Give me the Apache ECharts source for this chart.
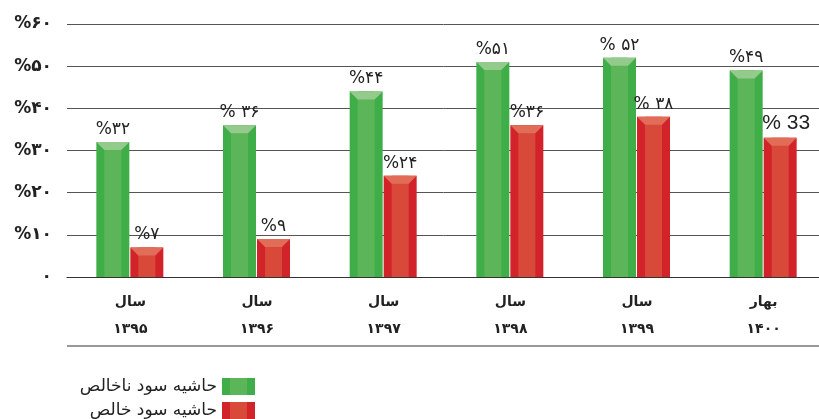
<!DOCTYPE html>
<html>
<head>
<meta charset="utf-8">
<script src="https://cdn.jsdelivr.net/npm/echarts@6/dist/echarts.min.js"></script>
<style>
  html, body { margin: 0; padding: 0; background: #fff; }
  #chart { width: 819px; height: 419px; }
</style>
</head>
<body>
<div id="chart"></div>
<script>
  // data
  const categories = ['سال\n۱۳۹۵', 'سال\n۱۳۹۶', 'سال\n۱۳۹۷', 'سال\n۱۳۹۸', 'سال\n۱۳۹۹', 'بهار\n۱۴۰۰'];
  const grossName = 'حاشیه سود ناخالص';
  const netName = 'حاشیه سود خالص';
  const grossValues = [32, 36, 44, 51, 52, 49];
  const netValues = [7, 9, 24, 36, 38, 33];
  const grossLabels = ['%۳۲', '% ۳۶', '%۴۴', '%۵۱', '% ۵۲', '%۴۹'];
  const netLabels = ['%۷', '%۹', '%۲۴', '%۳۶', '% ۳۸', '% 33'];
  const yTickLabels = ['۰', '%۱۰', '%۲۰', '%۳۰', '%۴۰', '%۵۰', '%۶۰'];

  const FONT = 'DejaVu Sans, sans-serif';
  const green = { dark: '#3fae49', mid: '#5db55a', cap: '#94ca8b' };
  const red = { dark: '#d2232a', mid: '#d9493a', cap: '#e16c58' };

  function bevelGradient(c) {
    return new echarts.graphic.LinearGradient(0, 0, 1, 0, [
      { offset: 0, color: c.dark }, { offset: 0.24, color: c.dark },
      { offset: 0.24, color: c.mid }, { offset: 0.76, color: c.mid },
      { offset: 0.76, color: c.dark }, { offset: 1, color: c.dark }
    ]);
  }

  function makeRender(colors, labels, side) {
    return function (params, api) {
      const idx = api.value(0);
      const top = api.coord([idx, api.value(1)]);
      const base = api.coord([idx, 0]);
      const w = 33;
      const x = side < 0 ? top[0] - w - 1 : top[0];
      const y = top[1];
      const h = base[1] - y;
      const s = 8;
      const capH = Math.min(8, h);
      const txt = labels[params.dataIndex];
      const latin = /[0-9]/.test(txt);
      return {
        type: 'group',
        children: [
          { type: 'rect', shape: { x: x, y: y, width: w, height: h }, style: { fill: colors.dark } },
          { type: 'rect', shape: { x: x + s, y: y, width: w - 2 * s, height: h }, style: { fill: colors.mid } },
          { type: 'polygon', shape: { points: [[x, y], [x + w, y], [x + w - s, y + capH], [x + s, y + capH]] }, style: { fill: colors.cap } },
          {
            type: 'text',
            x: x + w / 2 + (latin ? 6 : 0), y: y - 4,
            style: {
              text: txt, align: 'center', verticalAlign: 'bottom',
              fill: '#222', font: latin ? '21px Liberation Sans, sans-serif' : '17px ' + FONT
            }
          }
        ]
      };
    };
  }

  const chart = echarts.init(document.getElementById('chart'));
  chart.setOption({
    animation: false,
    textStyle: { fontFamily: FONT },
    grid: { left: 67, width: 760, top: 24, bottom: 142, outerBoundsMode: 'none' },
    legend: {
      orient: 'vertical',
      right: 564, top: 378,
      padding: 0,
      align: 'right',
      itemWidth: 33, itemHeight: 17, itemGap: 7,
      icon: 'rect',
      textStyle: { fontSize: 17, color: '#222', fontFamily: FONT },
      data: [grossName, netName]
    },
    xAxis: {
      type: 'category',
      data: categories,
      axisLine: { lineStyle: { color: '#333', width: 1.2 } },
      axisTick: { show: false },
      axisLabel: { fontSize: 14, fontWeight: 'bold', color: '#222', lineHeight: 27, margin: 12 }
    },
    yAxis: {
      type: 'value',
      min: 0, max: 60, interval: 10,
      axisLine: { show: false },
      axisTick: { show: false },
      axisLabel: {
        margin: 15, fontSize: 17, fontWeight: 'bold', color: '#222',
        formatter: v => yTickLabels[Math.round(v / 10)]
      },
      splitLine: { lineStyle: { color: '#555', width: 1 } }
    },
    series: [
      {
        name: grossName, type: 'custom',
        itemStyle: { color: bevelGradient(green) },
        data: grossValues.map((v, i) => [i, v]),
        renderItem: makeRender(green, grossLabels, -1)
      },
      {
        name: netName, type: 'custom',
        itemStyle: { color: bevelGradient(red) },
        data: netValues.map((v, i) => [i, v]),
        renderItem: makeRender(red, netLabels, 1)
      }
    ],
    graphic: [
      { type: 'line', shape: { x1: 67, y1: 346, x2: 819, y2: 346 }, style: { stroke: '#333', lineWidth: 1.2 } }
    ]
  });
</script>
</body>
</html>
